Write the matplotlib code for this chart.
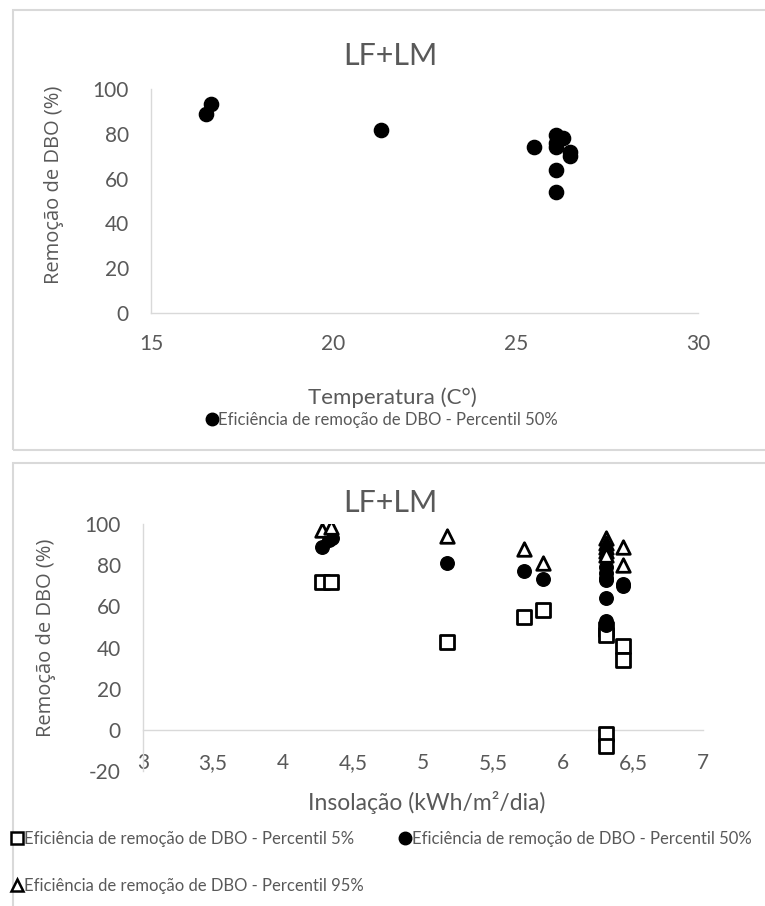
import matplotlib
matplotlib.use("Agg")
import matplotlib.pyplot as plt
from matplotlib.patches import Rectangle
from matplotlib.lines import Line2D

plt.rcParams["axes.unicode_minus"] = False

# --- data: temperature panel (median BOD removal)
temp_c = [16.5, 16.65, 21.3, 25.5, 26.1, 26.1, 26.1, 26.3, 26.5, 26.5, 26.1, 26.1]
rem_temp_p50 = [89, 93.5, 81.5, 74, 79.5, 76, 74, 78, 72, 70, 64, 54]

# --- data: insolation panel (percentiles 5, 50, 95 of BOD removal)
insol_p5 = [4.28, 4.34, 5.17, 5.72, 5.86, 6.31, 6.31, 6.31, 6.31, 6.43, 6.43]
rem_p5 = [72, 72, 42.5, 55, 58, 49, 46, -2, -8, 40.5, 34]

insol_p50 = [4.28, 4.35, 4.33, 5.17, 5.72, 5.86, 6.31, 6.31, 6.31, 6.31, 6.31, 6.31, 6.31, 6.43, 6.43]
rem_p50 = [89, 93, 92, 81, 77, 73.5, 79, 76, 74, 73, 64, 53, 51, 71, 70]

insol_p95 = [4.28, 4.34, 5.17, 5.72, 5.86, 6.31, 6.31, 6.31, 6.31, 6.31, 6.43, 6.43]
rem_p95 = [97, 98.5, 94, 88, 81, 93, 91, 89, 87, 85, 89, 80]

temp_ticks = [15, 20, 25, 30]
insol_ticks = [3, 3.5, 4, 4.5, 5, 5.5, 6, 6.5, 7]
insol_ticklabels = ["3", "3,5", "4", "4,5", "5", "5,5", "6", "6,5", "7"]
rem_ticks_top = [0, 20, 40, 60, 80, 100]
rem_ticks_bot = [-20, 0, 20, 40, 60, 80, 100]

title = "LF+LM"
ylabel = "Remoção de DBO (%)"
lbl5 = "Eficiência de remoção de DBO - Percentil 5%"
lbl50 = "Eficiência de remoção de DBO - Percentil 50%"
lbl95 = "Eficiência de remoção de DBO - Percentil 95%"

GRAY = "#595959"
AXIS = "#d9d9d9"
NARROW = ["Lato", "DejaVu Sans"]
WIDE = ["Open Sans", "DejaVu Sans"]

W, H = 765, 906
fig = plt.figure(figsize=(W / 100, H / 100), dpi=100)


def px_axes(left, right, top, bottom):
    return fig.add_axes([left / W, 1 - bottom / H, (right - left) / W, (bottom - top) / H])


def legend_item(handle, label, x, y):
    leg = fig.legend(handles=[handle], labels=[label], loc="center left",
                     bbox_to_anchor=(x / W, 1 - y / H), frameon=False,
                     prop={"family": NARROW, "size": 12}, labelcolor=GRAY,
                     handletextpad=0.05, handlelength=0.7, borderpad=0, borderaxespad=0)
    return leg


# panel frames
fig.patches.append(Rectangle((13 / W, 1 - 450 / H), 800 / W, 440 / H, transform=fig.transFigure,
                             fill=False, edgecolor=AXIS, linewidth=1.5))
fig.patches.append(Rectangle((13 / W, 1 - 920 / H), 800 / W, 457 / H, transform=fig.transFigure,
                             fill=False, edgecolor=AXIS, linewidth=1.5))


def style_axes(ax):
    for s in ["top", "right"]:
        ax.spines[s].set_visible(False)
    for s in ["left", "bottom"]:
        ax.spines[s].set_color(AXIS)
        ax.spines[s].set_linewidth(1.0)
    ax.tick_params(length=0, colors=GRAY, labelsize=15)
    for t in ax.get_xticklabels() + ax.get_yticklabels():
        t.set_fontfamily(NARROW)
        t.set_color(GRAY)


# ---------------- top panel: temperature
ax1 = px_axes(151, 698, 89, 313)
ax1.scatter(temp_c, rem_temp_p50, s=105, color="black", zorder=3)
ax1.set_xlim(15, 30)
ax1.set_ylim(0, 100)
ax1.set_xticks(temp_ticks)
ax1.set_yticks(rem_ticks_top)
ax1.tick_params(axis="x", pad=15)
ax1.tick_params(axis="y", pad=16)
style_axes(ax1)
fig.text(392 / W, 1 - 398 / H, "Temperatura (C°)", ha="center", va="center",
         fontsize=16, color=GRAY, family=NARROW)
fig.text(54 / W, 1 - 185 / H, ylabel, rotation=90, ha="center", va="center",
         fontsize=14.5, color=GRAY, family=WIDE)
fig.text(390 / W, 1 - 56 / H, title, ha="center", va="center", fontsize=22, color=GRAY, family=NARROW)
legend_item(Line2D([], [], marker="o", color="black", linestyle="none", markersize=9),
            lbl50, 206, 420)

# ---------------- bottom panel: insolation
ax2 = px_axes(143, 703, 524, 771)
ax2.scatter(insol_p5, rem_p5, marker="s", s=110, facecolor="white", edgecolor="black",
            linewidth=2.0, zorder=3)
ax2.scatter(insol_p50, rem_p50, marker="o", s=95, color="black", zorder=4)
ax2.scatter(insol_p95, rem_p95, marker="^", s=95, facecolor="white", edgecolor="black",
            linewidth=2.0, zorder=5)
ax2.set_xlim(3, 7)
ax2.set_ylim(-20, 100)
ax2.set_xticks(insol_ticks)
ax2.set_xticklabels(insol_ticklabels)
ax2.set_yticks(rem_ticks_bot)
ax2.spines["bottom"].set_position(("data", 0))
ax2.tick_params(axis="x", pad=17)
ax2.tick_params(axis="y", pad=16)
style_axes(ax2)
fig.text(427 / W, 1 - 802 / H, "Insolação (kWh/m²/dia)", ha="center", va="center",
         fontsize=16.5, color=GRAY, family=NARROW)
fig.text(46 / W, 1 - 638 / H, ylabel, rotation=90, ha="center", va="center",
         fontsize=14.5, color=GRAY, family=WIDE)
fig.text(390 / W, 1 - 503 / H, title, ha="center", va="center", fontsize=22, color=GRAY, family=NARROW)

h5 = Line2D([], [], marker="s", markerfacecolor="white", markeredgecolor="black",
            markeredgewidth=1.8, linestyle="none", markersize=8)
h50 = Line2D([], [], marker="o", color="black", linestyle="none", markersize=9)
h95 = Line2D([], [], marker="^", markerfacecolor="white", markeredgecolor="black",
             markeredgewidth=1.8, linestyle="none", markersize=8)
legend_item(h5, lbl5, 11, 839)
legend_item(h50, lbl50, 399, 839)
legend_item(h95, lbl95, 11, 886)

fig.savefig("out.png", dpi=100)
